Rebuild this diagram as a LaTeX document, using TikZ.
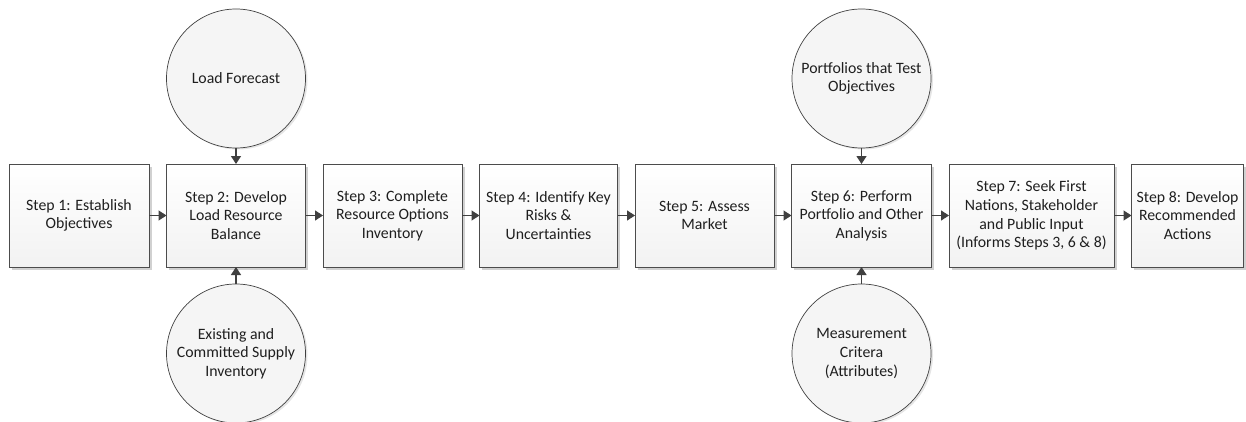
\documentclass[tikz,border=0pt]{standalone}
\usepackage{fontspec}
\setmainfont{Carlito}
\usetikzlibrary{positioning,shadows,arrows.meta}

\begin{document}
\begin{tikzpicture}[x=1pt, y=1pt,
  node distance=17.5pt,
  every node/.style = {
     align=center,
     font=\fontsize{15.8}{18.6}\selectfont,
     text=black!88},
  stepbox/.style = {draw=black!70, line width=1pt, inner sep=0pt, outer sep=0pt,
     top color=white, bottom color=black!5,
     minimum width=139pt, minimum height=103pt,
     drop shadow={shadow xshift=2.5pt, shadow yshift=-2.5pt, fill=black!18, opacity=1}},
  inputcirc/.style = {circle, draw=black!75, line width=0.7pt, inner sep=0pt, outer sep=0pt,
     fill=black!4, minimum size=139pt,
     drop shadow={shadow xshift=2pt, shadow yshift=-1.5pt, fill=black!10, opacity=1}},
  flow/.style = {-{Triangle[length=8pt, width=10pt]}, line width=1.3pt, draw=black!75}]
  \useasboundingbox (0,0) rectangle (1246,421);

  \node[stepbox, minimum width=140pt] (s1) at (79,205.5) {Step 1: Establish\\Objectives};
  \node[stepbox, right=of s1] (s2) {Step 2: Develop\\Load Resource\\Balance};
  \node[stepbox, right=of s2] (s3) {Step 3: Complete\\Resource Options\\Inventory};
  \node[stepbox, right=of s3, minimum width=138pt] (s4) {Step 4: Identify Key\\Risks \&\\Uncertainties};
  \node[stepbox, right=of s4] (s5) {Step 5: Assess\\Market};
  \node[stepbox, right=of s5, minimum width=140pt] (s6) {Step 6: Perform\\Portfolio and Other\\Analysis};
  \node[stepbox, right=of s6, minimum width=165pt] (s7) {Step 7: Seek First\\Nations, Stakeholder\\and Public Input\\(Informs Steps 3, 6 \& 8)};
  \node[stepbox, right=of s7, minimum width=112pt] (s8) {Step 8: Develop\\Recommended\\Actions};

  \node[inputcirc, above=16pt of s2] (forecast) {Load Forecast};
  \node[inputcirc, below=17pt of s2] (supply) {Existing and\\Committed Supply\\Inventory};
  \node[inputcirc, above=16pt of s6] (portfolios) {Portfolios that Test\\Objectives};
  \node[inputcirc, below=17pt of s6] (criteria) {Measurement\\Critera\\(Attributes)};

  \foreach \a/\b in {s1/s2, s2/s3, s3/s4, s4/s5, s5/s6, s6/s7, s7/s8}
    \draw[flow] (\a) -- (\b);
  \draw[flow] (forecast) -- (s2);
  \draw[flow] (supply) -- (s2);
  \draw[flow] (portfolios) -- (s6);
  \draw[flow] (criteria) -- (s6);
\end{tikzpicture}
\end{document}
